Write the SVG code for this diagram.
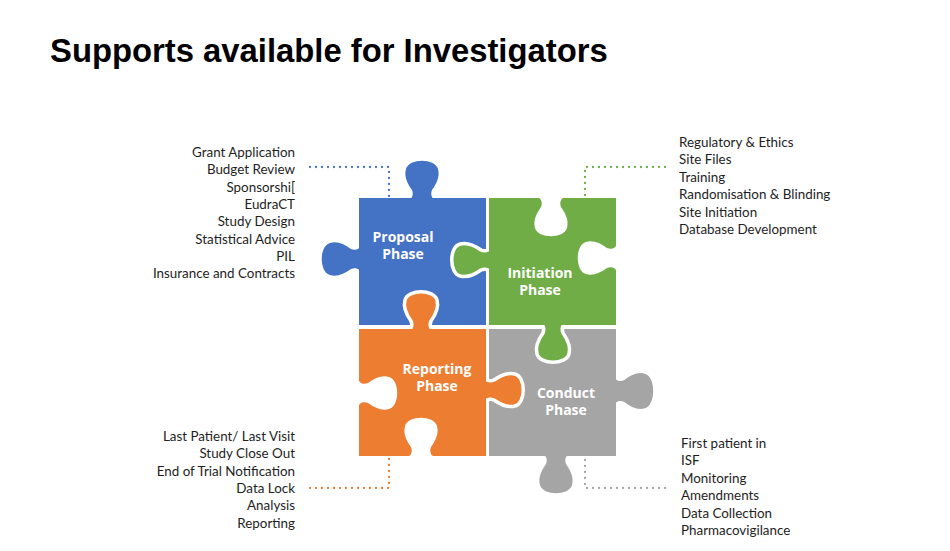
<svg xmlns="http://www.w3.org/2000/svg" xmlns:xlink="http://www.w3.org/1999/xlink" width="950" height="551" viewBox="0 0 950 551">
<style>
.title{font-family:"Liberation Sans",Arial,sans-serif;font-weight:bold;font-size:32.8px;fill:#000}
.side{font-family:Lato,"Open Sans",sans-serif;font-size:13.4px;fill:#1e1e1e}
.r{text-anchor:end}
.lbl{font-family:"Open Sans","Noto Sans",sans-serif;font-weight:bold;font-size:14px;fill:#fff;text-anchor:middle}
.dot{fill:none;stroke-width:2.3;stroke-linecap:round;stroke-dasharray:0 6}
.cut{stroke:#fff;stroke-width:3.5}
</style>
<defs>
<path id="tab" d="M -16,0 C -10,0 -8,-5 -10,-10 C -15,-17 -18,-24 -16,-31 C -13,-42 13,-42 16,-31 C 18,-24 15,-17 10,-10 C 8,-5 10,0 16,0"/>
</defs>
<rect width="950" height="551" fill="#fff"/>
<text class="title" x="50" y="62">Supports available for Investigators</text>

<g id="connectors">
<path class="dot" stroke="#4472C4" d="M310,167 H389 V197"/>
<path class="dot" stroke="#70AD47" d="M665,167 H585 V197"/>
<path class="dot" stroke="#ED7D31" d="M310,488 H389 V458"/>
<path class="dot" stroke="#A5A5A5" d="M665,488 H585 V458"/>
</g>

<g id="proposal">
<rect x="359" y="198" width="127" height="127" fill="#4472C4"/>
<use xlink:href="#tab" fill="#4472C4" transform="translate(422,200)"/>
<use xlink:href="#tab" fill="#4472C4" transform="translate(361,259) rotate(-90)"/>
</g>
<g id="conduct">
<rect x="489" y="329" width="127" height="127" fill="#A5A5A5"/>
<use xlink:href="#tab" fill="#A5A5A5" transform="translate(614,391) rotate(90) scale(1.08,1)"/>
<use xlink:href="#tab" fill="#A5A5A5" transform="translate(556,454) rotate(180)"/>
</g>
<g id="initiation">
<use xlink:href="#tab" class="cut" fill="#70AD47" transform="translate(491,260) rotate(-90)"/>
<use xlink:href="#tab" class="cut" fill="#70AD47" transform="translate(553,323) rotate(180)"/>
<rect x="489" y="198" width="127" height="127" fill="#70AD47"/>
<use xlink:href="#tab" fill="#fff" transform="translate(551,197) rotate(180)"/>
<use xlink:href="#tab" fill="#fff" transform="translate(617,258) rotate(-90)"/>
</g>
<g id="reporting">
<use xlink:href="#tab" class="cut" fill="#ED7D31" transform="translate(421,331)"/>
<use xlink:href="#tab" class="cut" fill="#ED7D31" transform="translate(484,390) rotate(90)"/>
<rect x="359" y="329" width="127" height="127" fill="#ED7D31"/>
<use xlink:href="#tab" fill="#fff" transform="translate(358,393) rotate(90)"/>
<use xlink:href="#tab" fill="#fff" transform="translate(421,457)"/>
</g>

<g id="labels">
<text class="lbl" x="403" y="242">Proposal<tspan x="403" dy="17">Phase</tspan></text>
<text class="lbl" x="540" y="278">Initiation<tspan x="540" dy="17">Phase</tspan></text>
<text class="lbl" x="437" y="374">Reporting<tspan x="437" dy="17">Phase</tspan></text>
<text class="lbl" x="566" y="398">Conduct<tspan x="566" dy="17">Phase</tspan></text>
</g>

<g id="proposal-supports" class="side r">
<text x="295" y="157">Grant Application</text>
<text x="295" y="174.3">Budget Review</text>
<text x="295" y="191.6">Sponsorshi[</text>
<text x="295" y="208.9">EudraCT</text>
<text x="295" y="226.2">Study Design</text>
<text x="295" y="243.5">Statistical Advice</text>
<text x="295" y="260.8">PIL</text>
<text x="295" y="278.1">Insurance and Contracts</text>
</g>
<g id="initiation-supports" class="side">
<text x="679" y="147">Regulatory &amp; Ethics</text>
<text x="679" y="164.4">Site Files</text>
<text x="679" y="181.8">Training</text>
<text x="679" y="199.2">Randomisation &amp; Blinding</text>
<text x="679" y="216.6">Site Initiation</text>
<text x="679" y="234">Database Development</text>
</g>
<g id="reporting-supports" class="side r">
<text x="295" y="440.7">Last Patient/ Last Visit</text>
<text x="295" y="458.1">Study Close Out</text>
<text x="295" y="475.5">End of Trial Notification</text>
<text x="295" y="492.9">Data Lock</text>
<text x="295" y="510.3">Analysis</text>
<text x="295" y="527.7">Reporting</text>
</g>
<g id="conduct-supports" class="side">
<text x="681" y="448">First patient in</text>
<text x="681" y="465.4">ISF</text>
<text x="681" y="482.8">Monitoring</text>
<text x="681" y="500.2">Amendments</text>
<text x="681" y="517.6">Data Collection</text>
<text x="681" y="535">Pharmacovigilance</text>
</g>
</svg>
